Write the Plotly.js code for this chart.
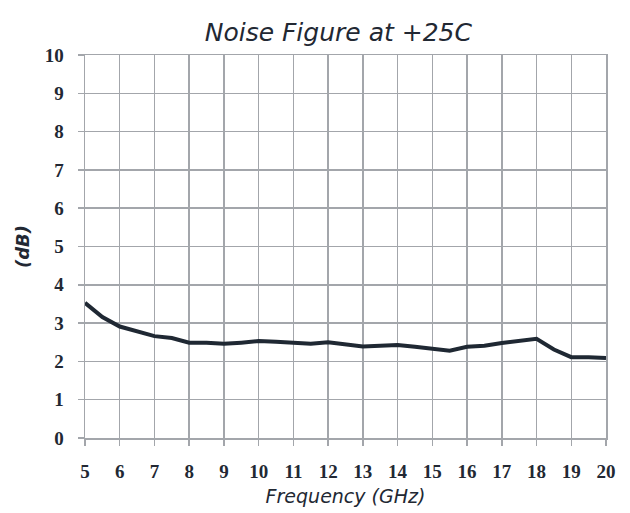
<!DOCTYPE html>
<html>
<head>
<meta charset="utf-8">
<script src="https://cdn.plot.ly/plotly-3.0.1.min.js"></script>
<style>html,body{margin:0;padding:0;background:#fff;}#chart{width:630px;height:513px;}</style>
</head>
<body>
<div id="chart"></div>
<script>
const frequencyGHz = [5,5.5,6,6.5,7,7.5,8,8.5,9,9.5,10,10.5,11,11.5,12,12.5,13,13.5,14,14.5,15,15.5,16,16.5,17,17.5,18,18.5,19,19.5,20];
const noiseFigureDb = [3.53,3.16,2.91,2.78,2.66,2.61,2.49,2.49,2.46,2.49,2.53,2.51,2.49,2.46,2.5,2.45,2.39,2.41,2.43,2.38,2.32,2.28,2.38,2.41,2.48,2.54,2.59,2.31,2.11,2.11,2.09];
const xTicks = [5,6,7,8,9,10,11,12,13,14,15,16,17,18,19,20];
const yTicks = [0,1,2,3,4,5,6,7,8,9,10];

const grid = '#a3a6ab';
const tickFont = {family:'Liberation Serif, serif', size:19, color:'#222833', weight:'bold'};

Plotly.newPlot('chart', [{
  x: frequencyGHz, y: noiseFigureDb, type:'scatter', mode:'lines',
  line:{color:'#1f2833', width:4}, hoverinfo:'none'
}], {
  width:630, height:513,
  margin:{l:85, r:24, t:55, b:75},
  paper_bgcolor:'#fff', plot_bgcolor:'#fff',
  showlegend:false,
  title:{text:'<i>Noise Figure at +25C</i>', font:{family:'DejaVu Sans, sans-serif', size:25, color:'#222833'}, x:0.537, xanchor:'center', y:0.937, yanchor:'middle'},
  xaxis:{
    range:[5,20], tickvals:xTicks, ticktext:xTicks.map(String),
    showgrid:true, gridcolor:grid, gridwidth:1.5,
    showline:true, linecolor:grid, linewidth:1.5, mirror:true,
    ticks:'outside', ticklen:6, tickcolor:grid, tickwidth:1.5,
    tickfont:tickFont, zeroline:false, ticklabelstandoff:10,
    title:{text:'<i>Frequency (GHz)</i>', font:{family:'DejaVu Sans, sans-serif', size:19, color:'#222833'}, standoff:8}
  },
  yaxis:{
    range:[0,10], tickvals:yTicks, ticktext:yTicks.map(String),
    showgrid:true, gridcolor:grid, gridwidth:1.5,
    showline:true, linecolor:grid, linewidth:1.5, mirror:true,
    ticks:'outside', ticklen:6, tickcolor:grid, tickwidth:1.5,
    tickfont:tickFont, zeroline:false, ticklabelstandoff:10,
    title:{text:'<b><i>(dB)</i></b>', font:{family:'DejaVu Sans, sans-serif', size:18, color:'#222833'}, standoff:10}
  }
}, {staticPlot:true});
</script>
</body>
</html>
